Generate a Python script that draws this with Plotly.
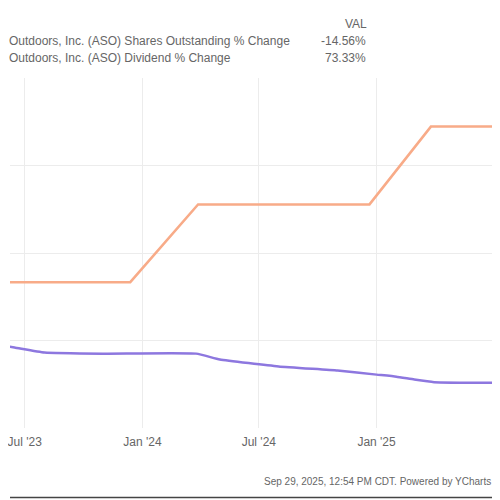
"""
ASO shares outstanding vs dividend % change (cropped YCharts view)
"""

import plotly.graph_objects as go

# Shares outstanding % change
shares_dates = ['2023-05-15', '2023-06-15', '2023-08-01', '2023-10-31', '2024-03-25',
                '2024-05-01', '2024-08-01', '2024-11-01', '2025-01-01',
                '2025-02-01', '2025-03-01', '2025-04-01', '2025-09-01']
shares_pct = [-1.4, -2.4, -4.1, -4.5, -4.5, -6.5, -8.9, -10.3, -11.7,
              -12.4, -13.4, -14.3, -14.56]

# Dividend % change
div_dates = ['2023-03-28', '2023-12-13', '2024-03-28', '2024-12-21', '2025-03-27', '2025-09-01']
div_pct = [20.0, 20.0, 46.67, 46.67, 73.33, 73.33]

tick_dates = ['2023-07-01', '2024-01-01', '2024-07-01', '2025-01-01', '2025-07-01']
# last label ("Jul '25") sits on the cropped right edge; left blank so the page doesn't overflow
tick_text = ["Jul '23", "Jan '24", "Jul '24", "Jan '25", ""]

# left part of the series names is cropped off in the source screenshot
legend_names = ['Outdoors, Inc. (ASO) Shares Outstanding % Change',
                'Outdoors, Inc. (ASO) Dividend % Change']
legend_vals = ['-14.56%', '73.33%']
footer = 'Sep 29, 2025, 12:54 PM CDT. Powered by YCharts'

FONT = 'Liberation Sans, Arial, sans-serif'
GREY = '#666666'

fig = go.Figure()

fig.add_trace(go.Scatter(
    x=div_dates, y=div_pct, mode='lines',
    line=dict(color='#f8ab88', width=2.5),
    name=legend_names[1], showlegend=False
))

fig.add_trace(go.Scatter(
    x=shares_dates, y=shares_pct, mode='lines',
    line=dict(color='#8d77df', width=2.5, shape='spline', smoothing=0.4),
    name=legend_names[0], showlegend=False
))

# Legend block drawn as text, as in the original screenshot
fig.add_annotation(x=0.732, y=1.154, xref='paper', yref='paper', text='VAL',
                   showarrow=False, xanchor='right', yanchor='middle',
                   font=dict(size=12, color=GREY, family=FONT))
for i, (name, val) in enumerate(zip(legend_names, legend_vals)):
    py = 1.106 - i * 0.049
    fig.add_annotation(x=0, y=py, xref='paper', yref='paper', text=name,
                       showarrow=False, xanchor='left', yanchor='middle', xshift=-3,
                       font=dict(size=12, color=GREY, family=FONT))
    fig.add_annotation(x=0.730, y=py, xref='paper', yref='paper', text=val,
                       showarrow=False, xanchor='right', yanchor='middle',
                       font=dict(size=12, color=GREY, family=FONT))

fig.add_annotation(x=0.985, y=-0.154, xref='paper', yref='paper', text=footer,
                   showarrow=False, xanchor='right', yanchor='middle',
                   font=dict(size=10, color=GREY, family=FONT))

# Screenshot border on the right and bottom
fig.add_shape(type='line', xref='paper', yref='paper', x0=0.99, x1=0.99,
              y0=-0.2, y1=1.2, line=dict(color='#444444', width=1.5))
fig.add_shape(type='line', xref='paper', yref='paper', x0=0, x1=1,
              y0=-0.1986, y1=-0.1986, line=dict(color='#444444', width=1.5))

fig.update_layout(
    width=492, height=492,
    margin=dict(l=0, r=0, t=70, b=72),
    paper_bgcolor='white', plot_bgcolor='white',
    showlegend=False,
    font=dict(family=FONT, color=GREY)
)

fig.update_xaxes(
    range=['2023-06-08', '2025-07-13'],
    tickvals=tick_dates, ticktext=tick_text,
    ticklabeloverflow='allow',
    showgrid=True, gridcolor='#ececec', gridwidth=1,
    zeroline=False, showline=False,
    ticks='outside', ticklen=3, tickcolor='white',
    tickfont=dict(size=12, color=GREY, family=FONT)
)

fig.update_yaxes(
    range=[-30, 90], dtick=30, tick0=0,
    showgrid=True, gridcolor='#ececec', gridwidth=1,
    zeroline=False, showticklabels=False
)

fig.write_html("out.html")
